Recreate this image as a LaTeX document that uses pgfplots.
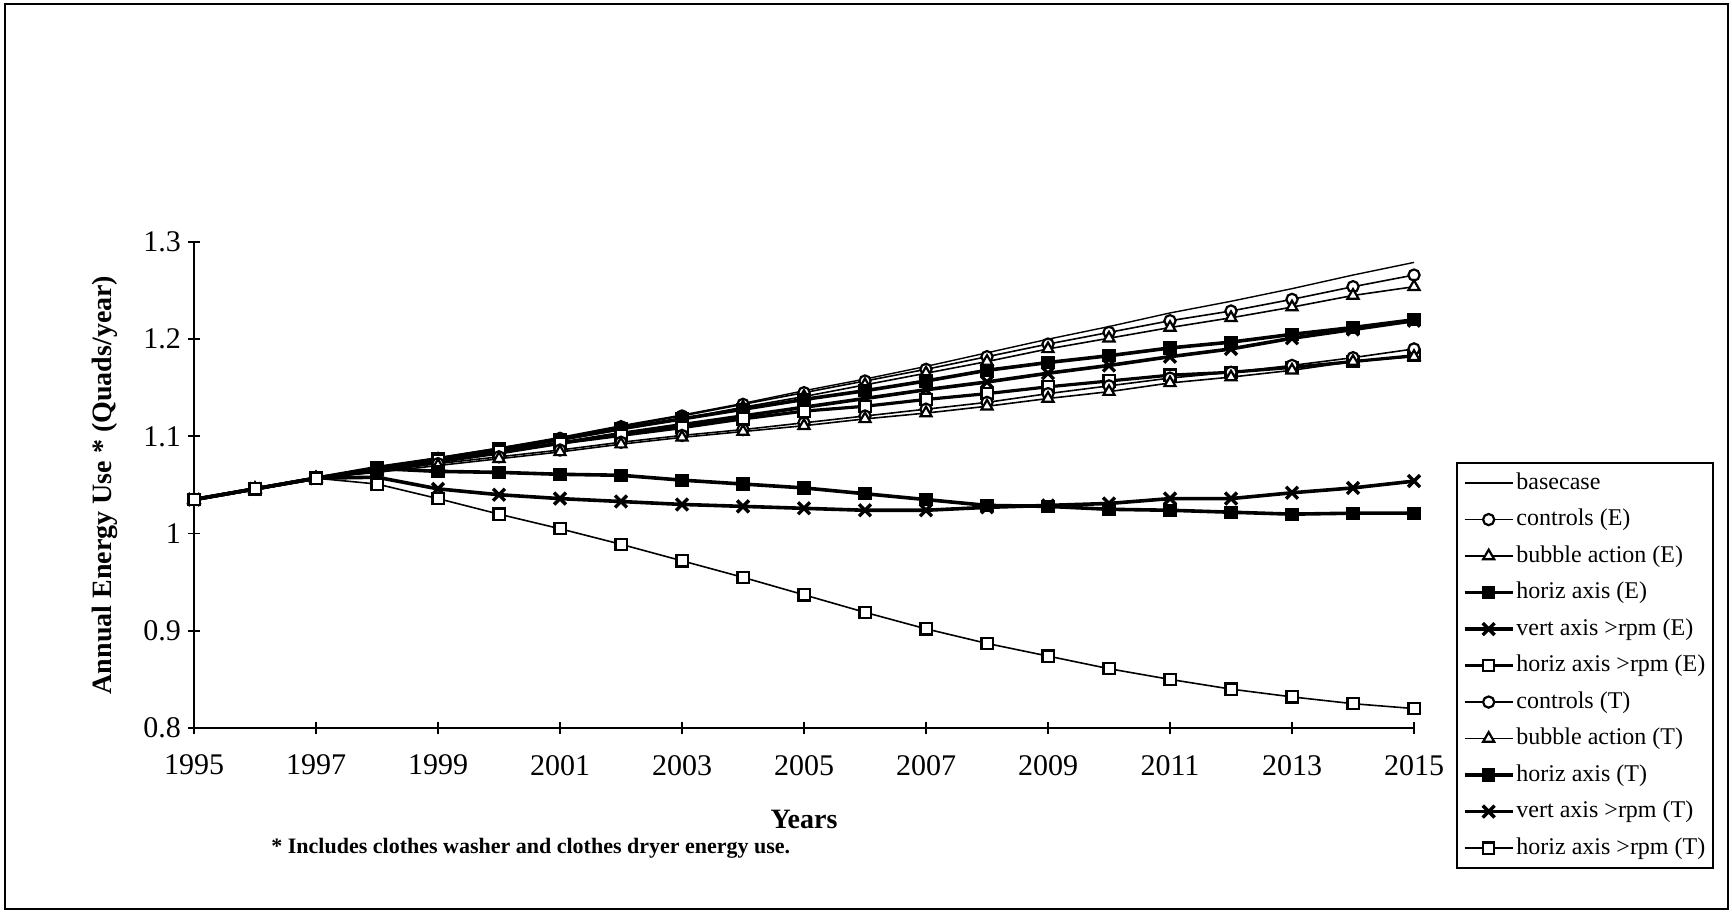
\documentclass[border=0pt]{standalone}
\usepackage{pgfplots}
\pgfplotsset{compat=1.18}
\usepackage{pgfplotstable}
\usepackage{fontspec}
\setmainfont{Liberation Serif}

% Annual energy use (Quads/year), clothes washer + dryer
\pgfplotstableread{
year base  ctrlE bubE  hzE   vtE   hzrE  ctrlT bubT  hzT   vtT   hzrT
1995 1.035 1.035 1.035 1.035 1.035 1.035 1.035 1.035 1.035 1.035 1.035
1996 1.046 1.046 1.046 1.046 1.046 1.046 1.046 1.046 1.046 1.046 1.046
1997 1.057 1.057 1.057 1.057 1.057 1.057 1.057 1.057 1.057 1.057 1.057
1998 1.068 1.067 1.066 1.068 1.065 1.066 1.064 1.063 1.067 1.058 1.051
1999 1.078 1.077 1.076 1.077 1.074 1.075 1.072 1.070 1.064 1.046 1.036
2000 1.088 1.087 1.085 1.087 1.083 1.084 1.079 1.077 1.063 1.040 1.020
2001 1.099 1.098 1.096 1.097 1.093 1.093 1.086 1.084 1.061 1.036 1.005
2002 1.111 1.110 1.107 1.108 1.103 1.101 1.094 1.092 1.060 1.033 0.989
2003 1.122 1.121 1.118 1.118 1.112 1.109 1.101 1.099 1.055 1.030 0.972
2004 1.134 1.133 1.130 1.128 1.121 1.118 1.107 1.105 1.051 1.028 0.955
2005 1.147 1.145 1.141 1.138 1.130 1.126 1.114 1.111 1.047 1.026 0.937
2006 1.159 1.157 1.153 1.147 1.139 1.131 1.121 1.118 1.041 1.024 0.919
2007 1.172 1.169 1.165 1.157 1.148 1.138 1.128 1.124 1.035 1.024 0.902
2008 1.186 1.182 1.177 1.168 1.156 1.144 1.135 1.131 1.029 1.027 0.887
2009 1.200 1.195 1.190 1.176 1.165 1.151 1.144 1.139 1.028 1.029 0.874
2010 1.213 1.207 1.201 1.183 1.173 1.157 1.152 1.146 1.025 1.031 0.861
2011 1.227 1.219 1.212 1.191 1.182 1.163 1.160 1.155 1.024 1.036 0.850
2012 1.239 1.229 1.222 1.197 1.190 1.166 1.166 1.161 1.022 1.036 0.840
2013 1.252 1.241 1.233 1.205 1.201 1.171 1.173 1.168 1.020 1.042 0.832
2014 1.266 1.254 1.245 1.212 1.210 1.177 1.181 1.177 1.021 1.047 0.825
2015 1.279 1.266 1.254 1.220 1.219 1.183 1.190 1.182 1.021 1.054 0.820
}\energy

\begin{document}
\begin{tikzpicture}
\useasboundingbox (0pt,0pt) rectangle (866pt,457pt);
\draw[line width=1pt] (2.5pt,2.5pt) rectangle (864pt,455pt);
\begin{axis}[
  name=ax, at={(97pt,93pt)}, anchor=south west,
  scale only axis, width=610pt, height=243pt,
  xmin=1995, xmax=2015, ymin=0.8, ymax=1.3,
  axis x line*=bottom, axis y line*=left,
  axis line style={line width=0.9pt, -},
  xtick={1995,1997,...,2015},
  ytick={0.8,0.9,1,1.1,1.2,1.3},
  yticklabels={0.8,0.9,1,1.1,1.2,1.3},
  /pgf/number format/1000 sep={},
  /pgf/number format/assume math mode=true,
  tick align=center, major tick length=6pt,
  tick style={black, line width=0.9pt},
  tick label style={font=\fontsize{15}{18}\selectfont},
  xticklabel style={yshift=-7pt},
  xlabel={Years},
  ylabel={Annual Energy Use * (Quads/year)},
  xlabel style={font=\bfseries\fontsize{14}{16}\selectfont, at={(axis description cs:0.5,-0.189)}, anchor=center},
  ylabel style={font=\bfseries\fontsize{14}{16}\selectfont, at={(axis description cs:-0.073,0.5)}, anchor=center, rotate=0},
  clip=false,
  legend cell align=left,
  legend image code/.code={\draw[mark repeat=2,mark phase=2,#1] plot coordinates {(0pt,0pt) (12pt,0pt) (24pt,0pt)};},
  legend style={at={(1.0344,0.547)}, anchor=north west, draw=black, line width=0.9pt,
    font=\fontsize{12}{14}\selectfont, inner xsep=3pt, inner ysep=3pt, row sep=4.25pt,
    nodes={inner sep=1pt, text height=9pt, text depth=3pt}},
  every axis plot/.append style={black},
]
\addplot[line width=0.7pt, mark=none] table[x=year,y=base]{\energy};
\addlegendentry{basecase}
\addplot[line width=0.8pt, mark=*, mark size=2.8pt, mark options={fill=white, solid, line width=1.1pt}] table[x=year,y=ctrlE]{\energy};
\addlegendentry{controls (E)}
\addplot[line width=0.8pt, mark=triangle*, mark size=3.2pt, mark options={fill=white, solid, line width=1.1pt}] table[x=year,y=bubE]{\energy};
\addlegendentry{bubble action (E)}
\addplot[line width=1.8pt, mark=square*, mark size=2.8pt, mark options={fill=black, solid, line width=1pt}] table[x=year,y=hzE]{\energy};
\addlegendentry{horiz axis (E)}
\addplot[line width=1.8pt, mark=x, mark size=4.2pt, mark options={solid, line width=1.7pt}] table[x=year,y=vtE]{\energy};
\addlegendentry{vert axis >rpm (E)}
\addplot[line width=1.6pt, mark=square*, mark size=2.8pt, mark options={fill=white, solid, line width=1.1pt}] table[x=year,y=hzrE]{\energy};
\addlegendentry{horiz axis >rpm (E)}
\addplot[line width=0.8pt, mark=*, mark size=2.8pt, mark options={fill=white, solid, line width=1.1pt}] table[x=year,y=ctrlT]{\energy};
\addlegendentry{controls (T)}
\addplot[line width=0.8pt, mark=triangle*, mark size=3.2pt, mark options={fill=white, solid, line width=1.1pt}] table[x=year,y=bubT]{\energy};
\addlegendentry{bubble action (T)}
\addplot[line width=1.8pt, mark=square*, mark size=2.8pt, mark options={fill=black, solid, line width=1pt}] table[x=year,y=hzT]{\energy};
\addlegendentry{horiz axis (T)}
\addplot[line width=1.8pt, mark=x, mark size=4.2pt, mark options={solid, line width=1.7pt}] table[x=year,y=vtT]{\energy};
\addlegendentry{vert axis >rpm (T)}
\addplot[line width=0.8pt, mark=square*, mark size=2.8pt, mark options={fill=white, solid, line width=1.1pt}] table[x=year,y=hzrT]{\energy};
\addlegendentry{horiz axis >rpm (T)}
\end{axis}
\node[anchor=west, inner sep=0pt, font=\bfseries\fontsize{11}{13}\selectfont] at (135.5pt,33pt) {* Includes clothes washer and clothes dryer energy use.};
\end{tikzpicture}
\end{document}
